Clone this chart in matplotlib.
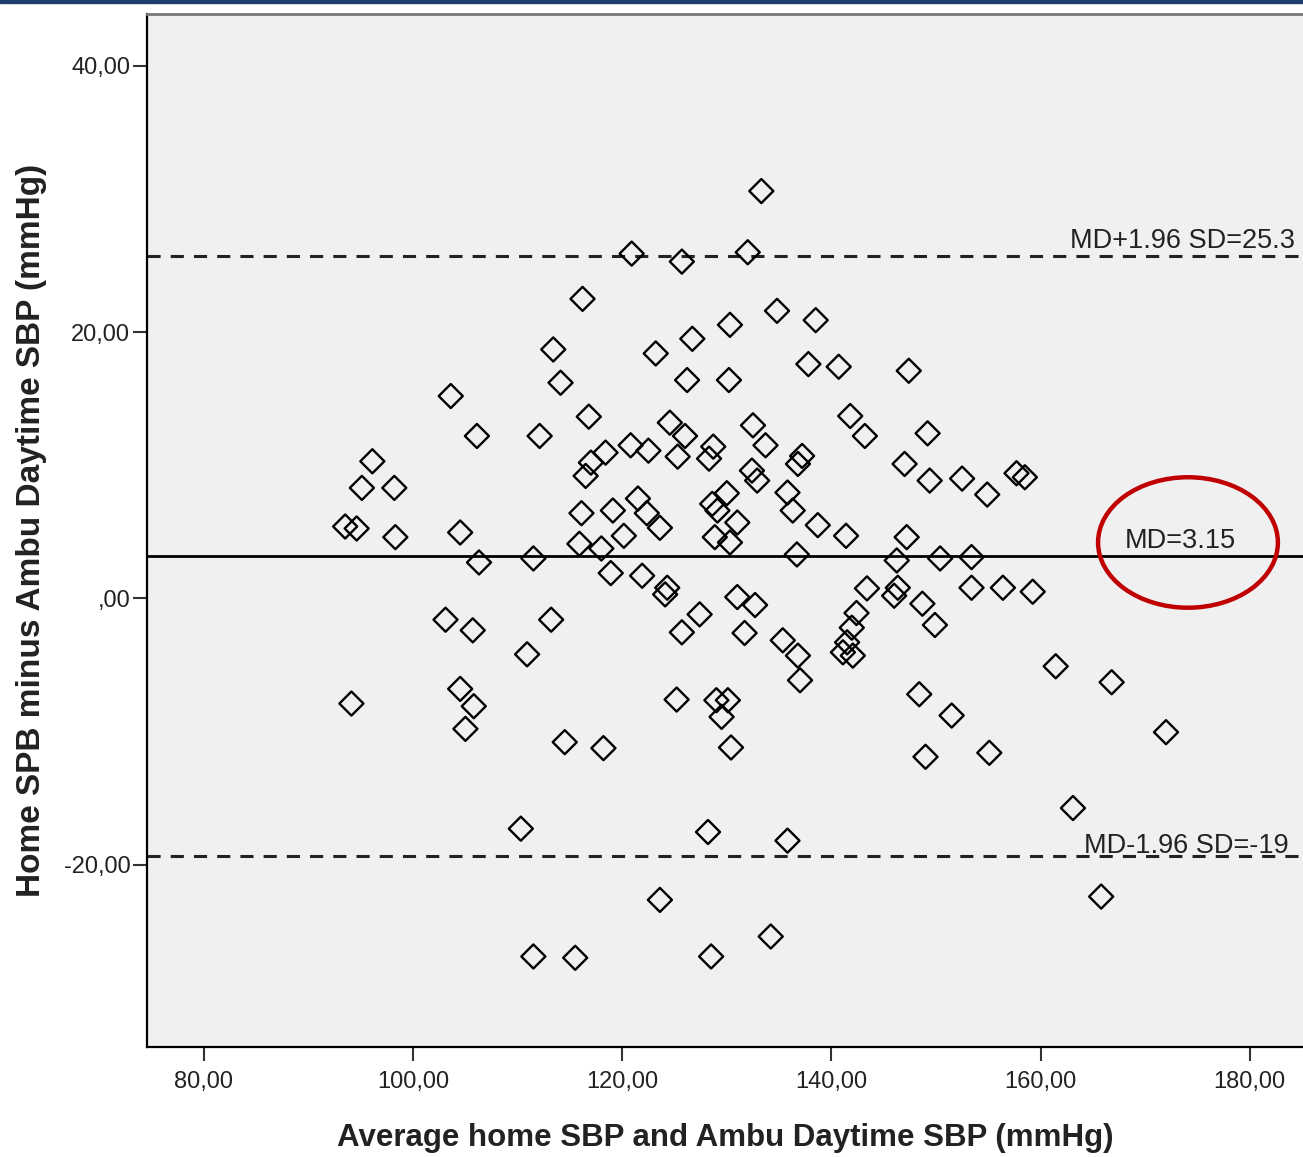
import matplotlib.pyplot as plt
from matplotlib.patches import Ellipse, Rectangle

# Bland-Altman data
avg_sbp = [
    93.5, 94.6, 96.1, 95.1, 98.2, 98.3, 94.1, 103.6, 106.1, 104.5,
    106.3, 103.1, 105.7, 104.5, 105.8, 105.0, 110.3, 111.5, 115.5, 110.9,
    111.5, 112.1, 113.2, 114.5, 113.4, 114.1, 116.2, 116.8, 118.4, 117.0,
    116.5, 116.1, 115.9, 118.0, 118.9, 118.2,
    133.3, 120.9, 125.7, 132.0, 134.8, 138.5, 130.3, 126.7, 123.2, 137.8,
    140.7, 126.2, 130.2, 124.55, 126.0, 120.8, 122.5, 125.3, 128.7, 128.3,
    132.5, 133.7, 141.8, 143.2, 137.2, 136.8, 132.4, 132.9, 121.5, 122.35,
    123.6, 119.1, 120.15, 128.6, 129.1, 130.0, 131.0, 128.85, 130.3, 135.8,
    136.3, 138.7, 141.4, 136.7, 121.9, 124.3, 124.1, 131.0, 132.7, 143.4,
    127.4, 125.7, 131.7, 135.35, 136.8, 137.0, 142.4, 141.95, 141.5, 141.1,
    142.05, 125.2, 129.0, 130.1, 129.5, 130.4, 128.2, 135.8, 123.6, 134.2,
    128.5,
    147.4, 149.2, 147.0, 149.4, 152.5, 154.9, 157.7, 158.5, 147.2, 146.25,
    150.4, 153.4, 153.4, 156.4, 159.25, 146.35, 146.0, 148.7, 149.9, 161.45,
    166.8, 148.4, 151.5, 172.0, 149.0, 155.1, 163.1, 165.8,
]
diff_sbp = [
    5.4, 5.25, 10.3, 8.3, 8.3, 4.6, -7.9, 15.2, 12.2, 4.95,
    2.7, -1.6, -2.4, -6.8, -8.1, -9.8, -17.3, -26.9, -27.0, -4.2,
    3.0, 12.2, -1.6, -10.8, 18.7, 16.2, 22.5, 13.65, 10.95, 10.2,
    9.2, 6.4, 4.1, 3.75, 1.9, -11.25,
    30.6, 25.9, 25.3, 26.0, 21.6, 20.9, 20.55, 19.5, 18.4, 17.6,
    17.4, 16.4, 16.4, 13.2, 12.2, 11.5, 11.1, 10.65, 11.4, 10.5,
    13.0, 11.5, 13.7, 12.2, 10.7, 10.1, 9.6, 8.85, 7.5, 6.4,
    5.3, 6.6, 4.7, 7.1, 6.6, 7.9, 5.7, 4.6, 4.2, 7.95,
    6.6, 5.5, 4.7, 3.3, 1.7, 0.8, 0.3, 0.1, -0.5, 0.75,
    -1.2, -2.55, -2.6, -3.15, -4.3, -6.15, -1.1, -2.2, -3.3, -4.05,
    -4.3, -7.6, -7.65, -7.65, -8.9, -11.2, -17.55, -18.2, -22.65, -25.4,
    -26.9,
    17.1, 12.4, 10.1, 8.85, 9.0, 7.8, 9.4, 9.1, 4.6, 2.85,
    3.0, 3.1, 0.8, 0.8, 0.5, 0.8, 0.2, -0.4, -2.0, -5.1,
    -6.3, -7.2, -8.8, -10.05, -11.9, -11.6, -15.75, -22.4,
]

mean_diff = 3.15
upper_loa = 25.75
lower_loa = -19.35
upper_label = "MD+1.96 SD=25.3"
lower_label = "MD-1.96 SD=-19"
mean_label = "MD=3.15"

x_ticks = [80, 100, 120, 140, 160, 180]
y_ticks = [-20, 0, 20, 40]
y_tick_labels = ["-20,00", ",00", "20,00", "40,00"]

txt_font = ['Liberation Sans', 'DejaVu Sans']

fig = plt.figure(figsize=(13.03, 11.57), dpi=100)
fig.patch.set_facecolor('white')
fig.add_artist(Rectangle((0, 1 - 3 / 1157), 1, 3 / 1157, transform=fig.transFigure,
                         color='#1f3c6e', zorder=10))

ax = fig.add_axes([147 / 1303, 1 - 1047 / 1157, 1 - 147 / 1303, (1047 - 14) / 1157])
ax.set_facecolor('#f0f0f0')

ax.scatter(avg_sbp, diff_sbp, marker='D', s=150, facecolors='none',
           edgecolors='black', linewidths=1.7, zorder=3)

ax.axhline(mean_diff, color='black', lw=2, zorder=2)
ax.axhline(upper_loa, color='#222222', lw=2.2, dashes=(4.3, 3.3), zorder=2)
ax.axhline(lower_loa, color='#222222', lw=2.2, dashes=(4.3, 3.3), zorder=2)

ax.text(162.8, 26.33, upper_label, fontsize=19.5, family=txt_font,
        color='#222222', va='baseline', ha='left')
ax.text(164.2, -19.13, lower_label, fontsize=19.5, family=txt_font,
        color='#222222', va='baseline', ha='left')
ax.text(168.05, 3.75, mean_label, fontsize=19.5, family=txt_font,
        color='#222222', va='baseline', ha='left')

ax.add_patch(Ellipse((174.1, 4.2), 17.2, 9.8, fill=False, edgecolor='#c00000',
                     lw=3.2, zorder=4))

ax.set_xlim(74.55, 185.1)
ax.set_ylim(-33.7, 43.9)
ax.set_xticks(x_ticks)
ax.set_xticklabels([f"{t},00" for t in x_ticks])
ax.set_yticks(y_ticks)
ax.set_yticklabels(y_tick_labels)

for lab in ax.get_xticklabels() + ax.get_yticklabels():
    lab.set_family(txt_font)
    lab.set_fontsize(17)
    lab.set_color('#222222')
ax.tick_params(axis='both', direction='out', length=10, width=1.5, color='#333333')
ax.tick_params(axis='y', pad=2)
ax.tick_params(axis='x', pad=7)

ax.spines['right'].set_visible(False)
ax.spines['top'].set_color('#777777')
ax.spines['top'].set_linewidth(2)
ax.spines['left'].set_linewidth(1.6)
ax.spines['bottom'].set_linewidth(1.6)

ax.set_xlabel("Average home SBP and Ambu Daytime SBP (mmHg)", fontsize=22.5,
              fontweight='bold', family=txt_font, color='#222222', labelpad=22)
ax.set_ylabel("Home SPB minus Ambu Daytime SBP (mmHg)", fontsize=24,
              fontweight='bold', family=txt_font, color='#222222', labelpad=12)

plt.savefig('out.png', dpi=100)
